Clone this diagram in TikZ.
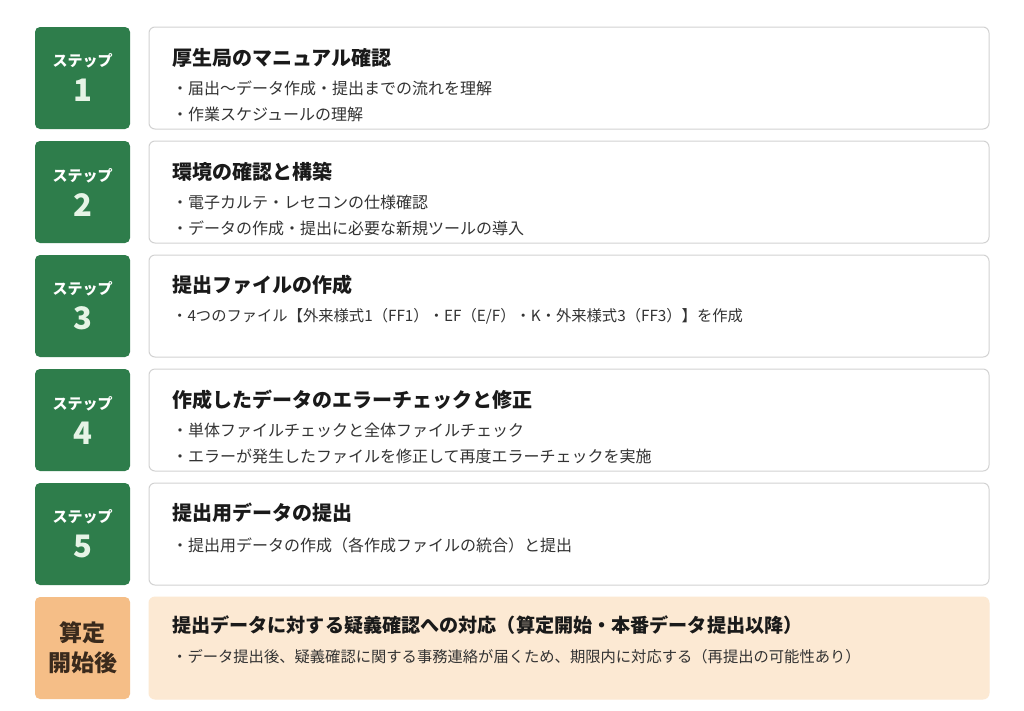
\documentclass[tikz,border=0pt]{standalone}
\usepackage{fontspec}
\setmainfont{Noto Sans CJK JP}
\usepackage{xcolor}
\usetikzlibrary{positioning}

\definecolor{stepgreen}{HTML}{2E7D4B}
\definecolor{steplight}{HTML}{E6F4E6}
\definecolor{afterorange}{HTML}{F5BE87}
\definecolor{aftertext}{HTML}{3A2A1C}
\definecolor{afterfill}{HTML}{FCE9D3}
\definecolor{boxgray}{HTML}{D2D2D2}
\definecolor{titleblack}{HTML}{1A1A1A}
\definecolor{itemgray}{HTML}{333333}

\begin{document}
\begin{tikzpicture}[x=1pt,y=1pt,node distance = 12pt and 19pt,
  stepbox/.style={fill=stepgreen, rounded corners=5pt, minimum width=95pt, minimum height=102pt,
    inner sep=0pt, outer sep=0pt, align=center, text=white, font=\fontsize{15}{35}\selectfont\bfseries},
  afterbox/.style={stepbox, fill=afterorange, text=aftertext, font=\fontsize{23}{30}\selectfont\bfseries},
  contentbox/.style={draw=boxgray, line width=1pt, rounded corners=6pt, minimum width=840pt,
    minimum height=102pt, outer sep=0pt, fill=white},
  title/.style={anchor=west, inner sep=0pt, text=titleblack, font=\fontsize{20}{20}\selectfont\bfseries},
  item/.style={anchor=west, inner sep=0pt, text=itemgray, font=\fontsize{16}{16}\selectfont}]
  \useasboundingbox[fill=white] (0,0) rectangle (1024,-710);

  % step labels
  \node [stepbox] (s1) at (82.5,-78) {ステップ\\{\fontsize{31}{35}\selectfont\color{steplight}1}};
  \node [stepbox] [below=of s1] (s2) {ステップ\\{\fontsize{31}{35}\selectfont\color{steplight}2}};
  \node [stepbox] [below=of s2] (s3) {ステップ\\{\fontsize{31}{35}\selectfont\color{steplight}3}};
  \node [stepbox] [below=of s3] (s4) {ステップ\\{\fontsize{31}{35}\selectfont\color{steplight}4}};
  \node [stepbox] [below=of s4] (s5) {ステップ\\{\fontsize{31}{35}\selectfont\color{steplight}5}};
  \node [afterbox] [below=of s5] (s6) {算定\\開始後};

  % content boxes
  \node [contentbox] [right=of s1] (c1) {};
  \node [contentbox] [right=of s2] (c2) {};
  \node [contentbox] [right=of s3] (c3) {};
  \node [contentbox] [right=of s4] (c4) {};
  \node [contentbox] [right=of s5] (c5) {};
  \node [contentbox, draw=afterfill, fill=afterfill] [right=of s6] (c6) {};

  \node [title] (t1) at ([xshift=23pt,yshift=-31pt]c1.north west) {厚生局のマニュアル確認};
  \node [item] (i1a) at ([xshift=23pt,yshift=-61pt]c1.north west) {・届出～データ作成・提出までの流れを理解};
  \node [item] (i1b) at ([xshift=23pt,yshift=-87pt]c1.north west) {・作業スケジュールの理解};

  \node [title] (t2) at ([xshift=23pt,yshift=-31pt]c2.north west) {環境の確認と構築};
  \node [item] (i2a) at ([xshift=23pt,yshift=-61pt]c2.north west) {・電子カルテ・レセコンの仕様確認};
  \node [item] (i2b) at ([xshift=23pt,yshift=-87pt]c2.north west) {・データの作成・提出に必要な新規ツールの導入};

  \node [title] (t3) at ([xshift=23pt,yshift=-30pt]c3.north west) {提出ファイルの作成};
  \node [item, font=\fontsize{15.3}{16}\selectfont] (i3a) at ([xshift=23pt,yshift=-61pt]c3.north west) {・4つのファイル【外来様式1（FF1）・EF（E/F）・K・外来様式3（FF3）】を作成};

  \node [title] (t4) at ([xshift=23pt,yshift=-31pt]c4.north west) {作成したデータのエラーチェックと修正};
  \node [item] (i4a) at ([xshift=23pt,yshift=-61pt]c4.north west) {・単体ファイルチェックと全体ファイルチェック};
  \node [item] (i4b) at ([xshift=23pt,yshift=-87pt]c4.north west) {・エラーが発生したファイルを修正して再度エラーチェックを実施};

  \node [title] (t5) at ([xshift=23pt,yshift=-30pt]c5.north west) {提出用データの提出};
  \node [item] (i5a) at ([xshift=23pt,yshift=-62pt]c5.north west) {・提出用データの作成（各作成ファイルの統合）と提出};

  \node [title, font=\fontsize{19.1}{20}\selectfont\bfseries] (t6) at ([xshift=23pt,yshift=-28pt]c6.north west) {提出データに対する疑義確認への対応（算定開始・本番データ提出以降）};
  \node [item, font=\fontsize{15.3}{16}\selectfont] (i6a) at ([xshift=23pt,yshift=-60pt]c6.north west) {・データ提出後、疑義確認に関する事務連絡が届くため、期限内に対応する（再提出の可能性あり）};
\end{tikzpicture}
\end{document}
